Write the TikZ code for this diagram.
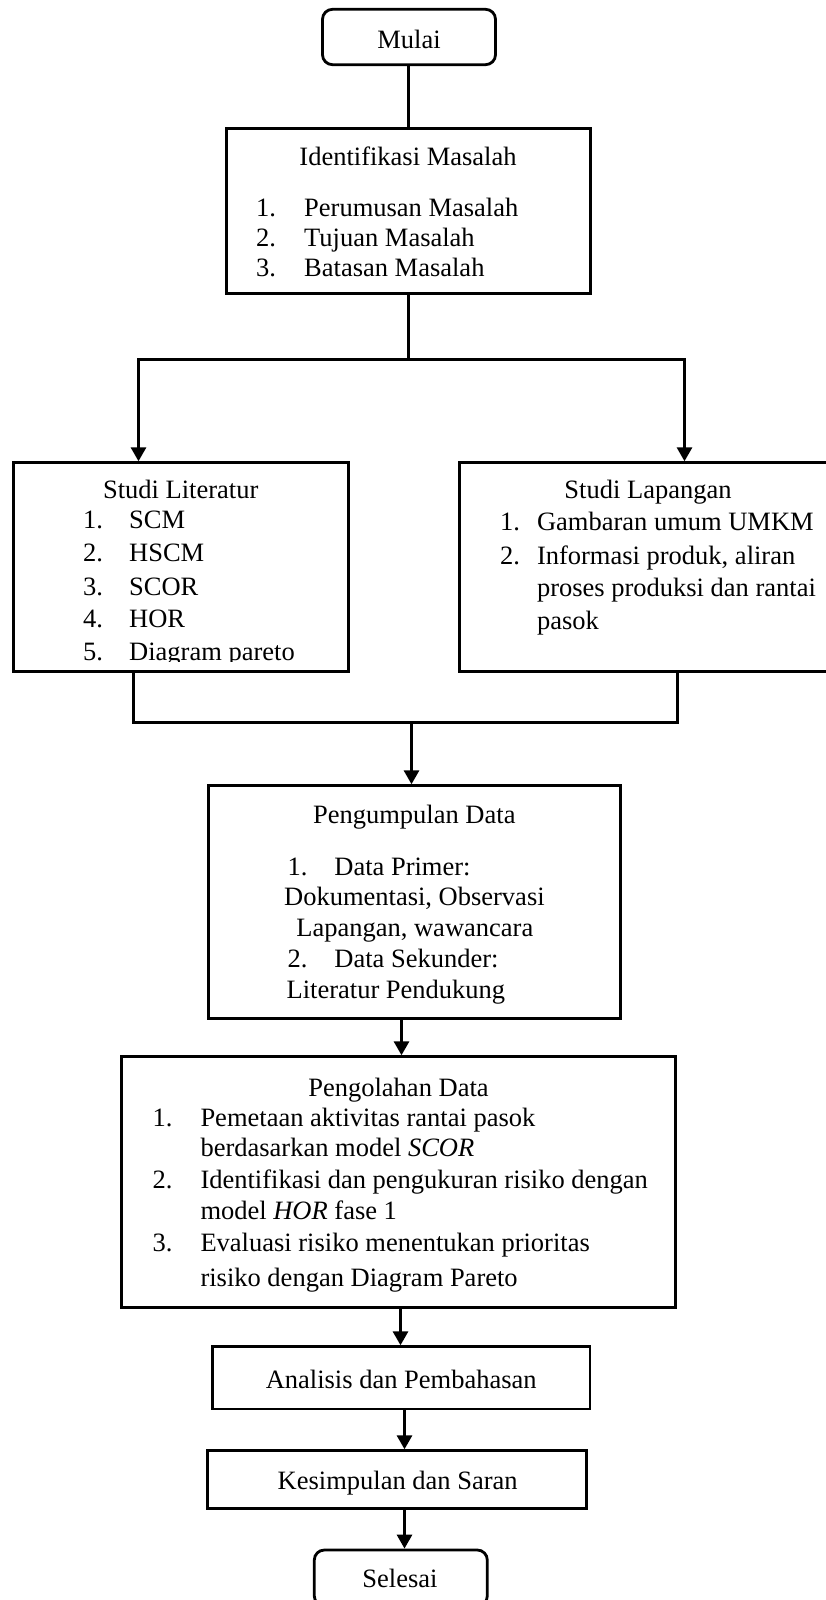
\documentclass[tikz,border=0pt]{standalone}
\usepackage{fontspec}
\setmainfont{Liberation Serif}
\usetikzlibrary{arrows.meta}
\begin{document}
\begin{tikzpicture}[x=1pt,y=-1pt,
  every node/.style={font=\fontsize{26.5}{30}\selectfont},
  box/.style={draw, line width=2.8pt, rectangle, inner sep=0pt},
  term/.style={box, rounded corners=10pt},
  txt/.style={inner sep=0pt, anchor=base},
  itm/.style={inner sep=0pt, anchor=base west},
  conn/.style={line width=3pt},
  arr/.style={conn, -{Triangle[width=15pt,length=14pt]}}]
\useasboundingbox (0,0) rectangle (825,1600);

% ---- boxes ----
\node[term, minimum width=173pt, minimum height=55.4pt] (mulai) at (409,37) {};
\node[box, minimum width=364pt, minimum height=164.6pt] (ident) at (408.25,211) {};
\node[box, minimum width=334.8pt, minimum height=209pt] (lit) at (180.9,567.2) {};
\node[box, minimum width=385.7pt, minimum height=209pt] (lap) at (652.15,567.2) {};
\node[box, minimum width=411.8pt, minimum height=232.6pt] (kumpul) at (414.4,902) {};
\node[box, minimum width=553.4pt, minimum height=250.6pt] (olah) at (398.5,1182) {};
\node[box, minimum width=377.7pt, minimum height=62.3pt] (anal) at (401.15,1377.85) {};
\node[box, minimum width=379.4pt, minimum height=57.6pt] (simp) at (397,1479.5) {};
\node[term, minimum width=173pt, minimum height=56pt] (selesai) at (400.8,1578) {};

% ---- texts ----
\node[txt] (tmulai) at (409,48.3) {Mulai};

\node[txt] (tident) at (408,165) {Identifikasi Masalah};
\node[itm] (ni1) at (256,216.7) {1.};
\node[itm] (ti1) at (304,216.7) {Perumusan Masalah};
\node[itm] (ni2) at (256,246.7) {2.};
\node[itm] (ti2) at (304,246.7) {Tujuan Masalah};
\node[itm] (ni3) at (256,276.7) {3.};
\node[itm] (ti3) at (304,276.7) {Batasan Masalah};

\node[txt] (tlit) at (180.7,498.3) {Studi Literatur};
\node[itm] (nl1) at (83,528.3) {1.};
\node[itm] (tl1) at (129,528.3) {SCM};
\node[itm] (nl2) at (83,561.7) {2.};
\node[itm] (tl2) at (129,561.7) {HSCM};
\node[itm] (nl3) at (83,595) {3.};
\node[itm] (tl3) at (129,595) {SCOR};
\node[itm] (nl4) at (83,627.7) {4.};
\node[itm] (tl4) at (129,627.7) {HOR};
\begin{scope}
  \clip (0,600) rectangle (348,661.7);
  \node[itm] (nl5) at (83,660) {5.};
  \node[itm] (tl5) at (129,660) {Diagram pareto};
\end{scope}

\node[txt] (tlap) at (648,498.3) {Studi Lapangan};
\node[itm] (np1) at (500,530.7) {1.};
\node[itm] (tp1) at (536.8,530.7) {Gambaran umum UMKM};
\node[itm] (np2) at (500,564) {2.};
\node[itm] (tp2) at (536.8,564) {Informasi produk, aliran};
\node[itm] (tp2b) at (536.8,596.7) {proses produksi dan rantai};
\node[itm] (tp2c) at (536.8,629.3) {pasok};

\node[txt] (tkumpul) at (414.3,823.3) {Pengumpulan Data};
\node[itm] (nk1) at (287.5,875) {1.};
\node[itm] (tk1) at (334.2,875) {Data Primer:};
\node[txt] (tk1b) at (414.4,905) {Dokumentasi, Observasi};
\node[txt] (tk1c) at (414.8,936) {Lapangan, wawancara};
\node[itm] (nk2) at (287.5,967.7) {2.};
\node[itm] (tk2) at (334.2,967.7) {Data Sekunder:};
\node[itm] (tk2b) at (286.4,998.3) {Literatur Pendukung};

\node[txt] (tolah) at (398.5,1096.7) {Pengolahan Data};
\node[itm] (no1) at (152.4,1126.7) {1.};
\node[itm] (to1) at (200.3,1126.7) {Pemetaan aktivitas rantai pasok};
\node[itm] (to1b) at (200.3,1156.7) {berdasarkan model \textit{SCOR}};
\node[itm] (no2) at (152.4,1188.3) {2.};
\node[itm] (to2) at (200.3,1188.3) {Identifikasi dan pengukuran risiko dengan};
\node[itm] (to2b) at (200.3,1219) {model \textit{HOR} fase 1};
\node[itm] (no3) at (152.4,1251.7) {3.};
\node[itm] (to3) at (200.3,1251.7) {Evaluasi risiko menentukan prioritas};
\node[itm] (to3b) at (200.3,1286.7) {risiko dengan Diagram Pareto};

\node[txt] (tanal) at (401.2,1388.3) {Analisis dan Pembahasan};
\node[txt] (tsimp) at (397.7,1489.3) {Kesimpulan dan Saran};
\node[txt] (tsel) at (400,1587.3) {Selesai};

% ---- connectors ----
\coordinate (jn) at (408.5,359.5);
\coordinate (sL) at (138.5,359.5);
\coordinate (sR) at (684.5,359.5);
\draw[conn] (jn |- mulai.south) -- (jn |- ident.north);
\draw[conn] (jn |- ident.south) -- (jn);
\draw[arr] (jn) -- (sL) -- (sL |- lit.north);
\draw[arr] (jn) -- (sR) -- (sR |- lap.north);

\coordinate (mL) at (133.5,722.5);
\coordinate (mR) at (677.5,722.5);
\coordinate (mC) at (411.5,722.5);
\draw[conn] (mL |- lit.south) -- (mL) -- (mR) -- (mR |- lap.south);
\draw[arr] (mC) -- (mC |- kumpul.north);

\coordinate (a1) at (401.5,0);
\coordinate (a2) at (400.5,0);
\coordinate (a3) at (404.5,0);
\draw[arr] (a1 |- kumpul.south) -- (a1 |- olah.north);
\draw[arr] (a2 |- olah.south) -- (a2 |- anal.north);
\draw[arr] (a3 |- anal.south) -- (a3 |- simp.north);
\draw[arr] (a3 |- simp.south) -- (a3 |- selesai.north);
\end{tikzpicture}
\end{document}
